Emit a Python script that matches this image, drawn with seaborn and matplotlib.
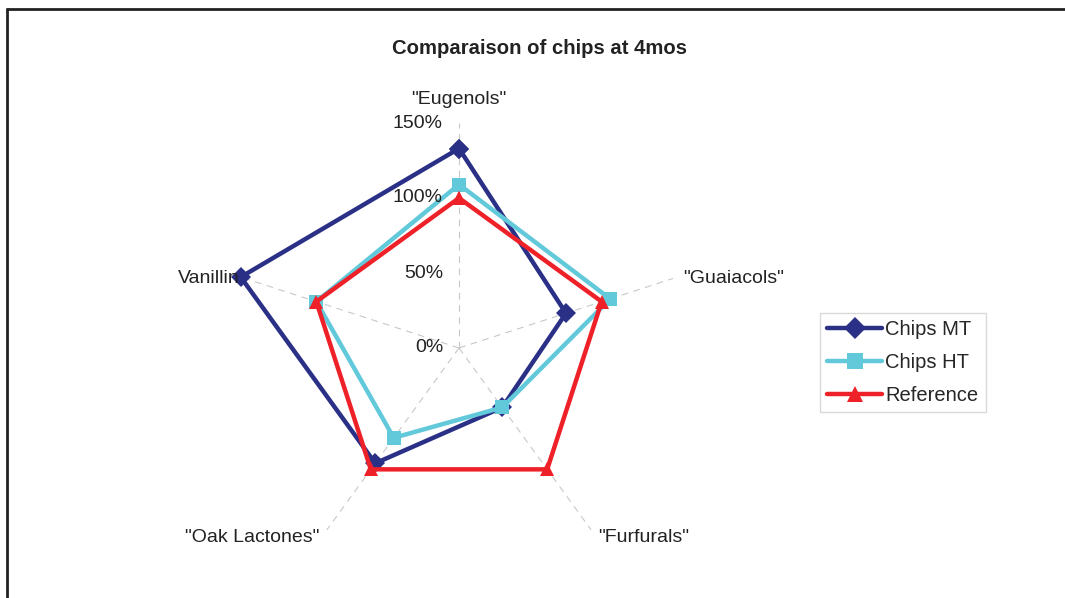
import numpy as np
import pandas as pd
import seaborn as sns
import matplotlib.pyplot as plt
from matplotlib.lines import Line2D

# data (fractions, 1.0 = 100%)
categories = ['"Eugenols"', '"Guaiacols"', '"Furfurals"', '"Oak Lactones"', 'Vanillin']
chips_mt = [1.33, 0.75, 0.49, 0.95, 1.53]
chips_ht = [1.09, 1.06, 0.49, 0.74, 1.00]
reference = [1.00, 1.00, 1.00, 1.00, 1.00]
series_names = ['Chips MT', 'Chips HT', 'Reference']
r_ticks = [0, 0.5, 1.0, 1.5]
r_tick_labels = ['0%', '50%', '100%', '150%']

colors = {'Chips MT': '#2B3087', 'Chips HT': '#62C9DB', 'Reference': '#EE2128'}
markers = {'Chips MT': 'D', 'Chips HT': 's', 'Reference': '^'}

# long table, closing each polygon back onto the first axis
n = len(categories)
angles = [i * 2 * np.pi / n for i in range(n)]
rows = []
for name, vals in zip(series_names, [chips_mt, chips_ht, reference]):
    for k, (a, v) in enumerate(zip(angles + [2 * np.pi], vals + vals[:1])):
        rows.append({'series': name, 'theta': a, 'value': v, 'order': k})
df = pd.DataFrame(rows)

sns.set_style('white')
plt.rcParams['font.family'] = ['Liberation Sans', 'DejaVu Sans']

fig = plt.figure(figsize=(10.65, 5.98), dpi=100)
ax = fig.add_axes([234 / 1065, 25 / 598, 450 / 1065, 450 / 598], projection='polar')
ax.set_theta_offset(np.pi / 2)
ax.set_theta_direction(-1)

sns.lineplot(data=df, x='theta', y='value', hue='series', style='series',
             hue_order=series_names, style_order=series_names,
             palette=colors, markers=markers, dashes=False, sort=False,
             estimator=None, units='series', linewidth=3.2, markersize=10,
             markeredgewidth=0, clip_on=False, ax=ax, legend=True)

ax.set_ylim(0, 1.5)
ax.set_xticks(angles)
ax.set_xticklabels([])
ax.set_yticks(r_ticks)
ax.set_yticklabels([])
ax.yaxis.grid(False)
ax.xaxis.grid(True, color='#C8C8C8', linestyle=(0, (6, 5)), linewidth=0.8)
ax.spines['polar'].set_visible(False)
ax.set_xlabel('')
ax.set_ylabel('')

# radial labels just left of the top spoke
for r, lab in zip(r_ticks, r_tick_labels):
    ax.annotate(lab, xy=(0, r), xytext=(-16, 0), textcoords='offset pixels',
                ha='right', va='center', fontsize=14, color='#222222')

# category labels around the outer end of each spoke
label_pos = [((0, 23), 'center'), ((10, 0), 'left'), ((7, -7), 'left'),
             ((-7, -7), 'right'), ((-5, 0), 'right')]
for a, lab, (off, ha) in zip(angles, categories, label_pos):
    ax.annotate(lab, xy=(a, 1.5), xytext=off, textcoords='offset pixels',
                ha=ha, va='center', fontsize=14, color='#222222')

fig.text(540 / 1065, 1 - 48 / 598, 'Comparaison of chips at 4mos',
         ha='center', va='center', fontsize=14.6, fontweight='bold', color='#222222')

handles, labels = ax.get_legend_handles_labels()
ax.get_legend().remove()
leg = fig.legend(handles, labels, loc='upper left',
                 bbox_to_anchor=(820 / 1065, 1 - 313 / 598),
                 fontsize=14.5, frameon=True, fancybox=False, edgecolor='#D0D0D0',
                 handlelength=2.75, handletextpad=0.15, labelspacing=0.7,
                 borderpad=0.35, borderaxespad=0)
leg.get_frame().set_linewidth(1)
for h in leg.legend_handles:
    h.set_linewidth(3.2)
    h.set_markersize(11)

# outer chart frame (left and top edges visible)
fig.add_artist(Line2D([7 / 1065, 7 / 1065], [0, 1 - 9 / 598], color='#222222', lw=2))
fig.add_artist(Line2D([7 / 1065, 1], [1 - 9 / 598, 1 - 9 / 598], color='#222222', lw=2))

fig.savefig('out.png', dpi=100)
